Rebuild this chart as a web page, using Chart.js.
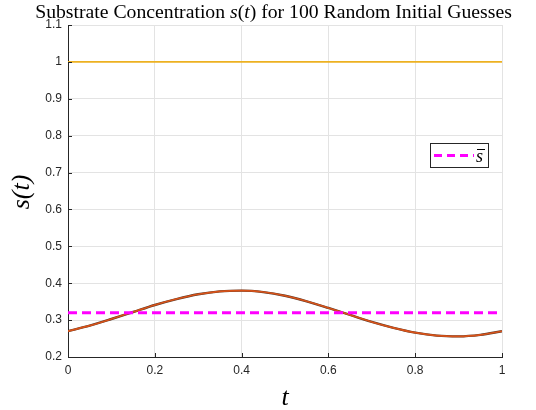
<!DOCTYPE html>
<html>
<head>
<meta charset="utf-8">
<script src="https://cdn.jsdelivr.net/npm/chart.js@4/dist/chart.umd.min.js"></script>
<style>
html,body{margin:0;padding:0;background:#fff;}
#wrap{width:536px;height:410px;position:relative;}
</style>
</head>
<body>
<div id="wrap"><canvas id="c" width="536" height="410"></canvas></div>
<script>
// ---- data ----
const tValues = [0,0.05,0.10,0.15,0.20,0.25,0.30,0.35,0.40,0.45,0.50,0.55,0.60,0.65,0.70,0.75,0.80,0.85,0.90,0.95,1.00];
const sConverged = [0.270,0.285,0.303,0.322,0.341,0.357,0.370,0.378,0.380,0.376,0.366,0.351,0.333,0.314,0.295,0.279,0.266,0.258,0.256,0.260,0.270];
const sUpper = [1,1];
const tUpper = [0,1];
const sBar = 0.320;
const xTicks = [0,0.2,0.4,0.6,0.8,1];
const yTicks = [0.2,0.3,0.4,0.5,0.6,0.7,0.8,0.9,1,1.1];
const yTickLabels = ['0.2','0.3','0.4','0.5','0.6','0.7','0.8','0.9','1','1.1'];
const titleParts = [['Substrate Concentration ',false],['s',true],['(',false],['t',true],[') for 100 Random Initial Guesses',false]];

const pts = (xs, ys) => xs.map((x,i)=>({x:x,y:ys[i]}));

const AXIS = '#262626';
const GRID = '#e3e3e3';
const SERIF = '"Liberation Serif","DejaVu Serif",serif';
const SANS = '"Liberation Sans",Arial,sans-serif';

const decor = {
  id:'decor',
  afterDatasetsDraw(chart){
    const ctx = chart.ctx, a = chart.chartArea;
    const xs = chart.scales.x, ys = chart.scales.y;
    ctx.save();
    // inward ticks
    ctx.strokeStyle = AXIS; ctx.lineWidth = 1;
    ctx.beginPath();
    yTicks.forEach(v=>{const y=Math.round(ys.getPixelForValue(v))+0.5; ctx.moveTo(a.left,y); ctx.lineTo(a.left+4,y);});
    xTicks.forEach(v=>{const x=Math.round(xs.getPixelForValue(v))+0.5; ctx.moveTo(x,a.bottom); ctx.lineTo(x,a.bottom-4);});
    ctx.stroke();
    // legend
    const lx=430, ly=143, lw=58, lh=24;
    ctx.fillStyle='#fff'; ctx.fillRect(lx,ly,lw,lh);
    ctx.strokeStyle='#262626'; ctx.lineWidth=1; ctx.strokeRect(lx+0.5,ly+0.5,lw,lh);
    ctx.strokeStyle='#ff00ff'; ctx.lineWidth=3; ctx.setLineDash([8,5]);
    ctx.beginPath(); ctx.moveTo(lx+4,ly+12.5); ctx.lineTo(lx+44,ly+12.5); ctx.stroke();
    ctx.setLineDash([]);
    ctx.fillStyle='#000'; ctx.font='italic 18px '+SERIF; ctx.textBaseline='alphabetic'; ctx.textAlign='left';
    ctx.fillText('s', lx+46, ly+19);
    ctx.lineWidth=1; ctx.strokeStyle='#000';
    ctx.beginPath(); ctx.moveTo(lx+47,ly+6.5); ctx.lineTo(lx+55,ly+6.5); ctx.stroke();
    ctx.restore();
  },
  afterDraw(chart){
    const ctx = chart.ctx;
    ctx.save();
    ctx.fillStyle='#000'; ctx.textBaseline='alphabetic';
    // title (fit to reference width)
    const widthAt = (fs)=>{let t=0; titleParts.forEach(p=>{ctx.font=(p[1]?'italic ':'')+fs+'px '+SERIF; t+=ctx.measureText(p[0]).width;}); return t;};
    const fs = 16*477/widthAt(16);
    const total = widthAt(fs);
    let x = 273.5 - total/2;
    titleParts.forEach(p=>{ctx.font=(p[1]?'italic ':'')+fs+'px '+SERIF; ctx.textAlign='left'; ctx.fillText(p[0],x,18); x+=ctx.measureText(p[0]).width;});
    // x label
    ctx.font='italic 26px '+SERIF; ctx.textAlign='center';
    ctx.fillText('t', 285, 405);
    // y label
    ctx.translate(29,192); ctx.rotate(-Math.PI/2);
    ctx.font='italic 26px '+SERIF; ctx.textAlign='center';
    ctx.fillText('s(t)',0,0);
    ctx.restore();
  }
};

new Chart(document.getElementById('c'),{
  type:'line',
  data:{datasets:[
    {label:'upper', data:pts(tUpper,sUpper), borderColor:'#EDB120', borderWidth:1.8, pointRadius:0, fill:false, order:3},
    {label:'edge', data:pts(tValues,sConverged), borderColor:'#5a3a2a', borderWidth:2.4, pointRadius:0, tension:0.4, cubicInterpolationMode:'monotone', fill:false, order:2},
    {label:'s', data:pts(tValues,sConverged), borderColor:'#D95319', borderWidth:1.6, pointRadius:0, tension:0.4, cubicInterpolationMode:'monotone', fill:false, order:1},
    {label:'sbar', data:pts(tUpper,[sBar,sBar]), borderColor:'#ff00ff', borderWidth:3, borderDash:[9,5], pointRadius:0, fill:false, order:0}
  ]},
  options:{
    responsive:false, animation:false, devicePixelRatio:1,
    layout:{padding:{left:0,right:34,top:25,bottom:0}},
    plugins:{legend:{display:false}, title:{display:false}, tooltip:{enabled:false}},
    scales:{
      x:{type:'linear', min:0, max:1,
        afterBuildTicks(s){s.ticks=xTicks.map(v=>({value:v}));},
        afterFit(s){s.height=53;},
        ticks:{font:{family:SANS,size:12}, color:AXIS, padding:6, maxRotation:0, callback:(v)=>String(v)},
        grid:{color:GRID, drawTicks:false, lineWidth:1},
        border:{display:true, color:AXIS, width:1}
      },
      y:{type:'linear', min:0.2, max:1.1,
        afterBuildTicks(s){s.ticks=yTicks.map(v=>({value:v}));},
        afterFit(s){s.width=68;},
        ticks:{font:{family:SANS,size:12}, color:AXIS, padding:6, callback:(v)=>{const i=yTicks.findIndex(t=>Math.abs(t-v)<1e-9);return i>=0?yTickLabels[i]:'';}},
        grid:{color:GRID, drawTicks:false, lineWidth:1},
        border:{display:true, color:AXIS, width:1}
      }
    }
  },
  plugins:[decor]
});
</script>
</body>
</html>
